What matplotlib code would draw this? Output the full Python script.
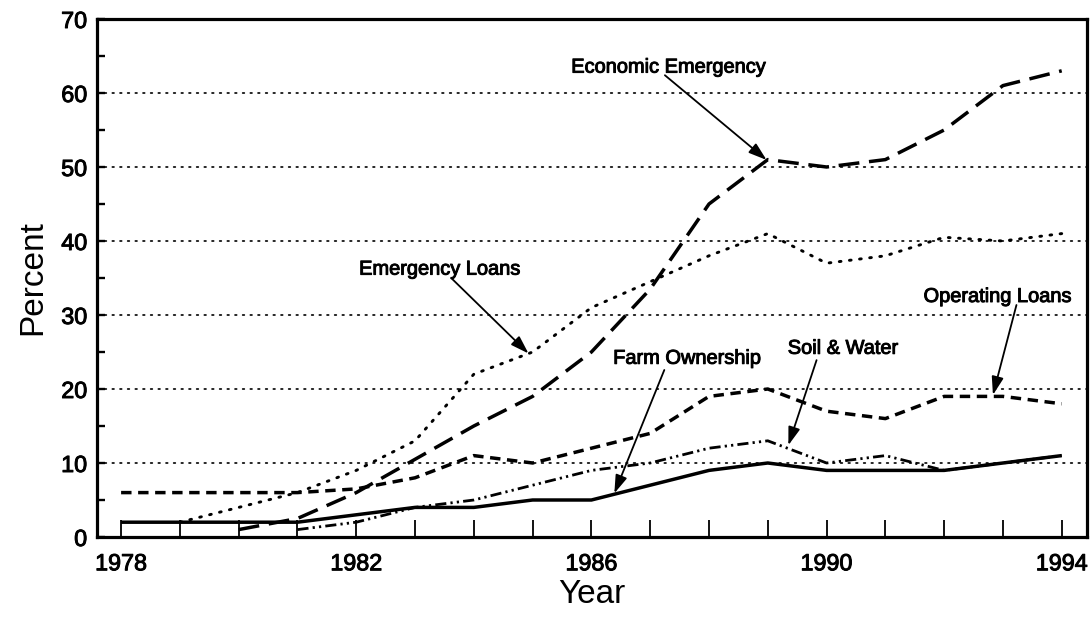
import matplotlib
matplotlib.use("Agg")
import matplotlib.pyplot as plt
import matplotlib.patheffects as pe

plt.rcParams['font.family'] = ['Liberation Sans', 'DejaVu Sans']

# ---- data (percent) ----
years_all = list(range(1978, 1995))

farm_years = list(range(1978, 1995))
farm_ownership = [2, 2, 2, 2, 3, 4, 4, 5, 5, 7, 9, 10, 9, 9, 9, 10, 11]

emerg_years = list(range(1979, 1995))
emergency_loans = [2, 4, 6, 9, 13, 22, 25, 31, 34.5, 38, 41, 37, 38, 40.5, 40, 41]

econ_years = list(range(1980, 1995))
economic_emergency = [1, 2.5, 6, 10.5, 15, 19, 25, 33.5, 45, 51, 50, 51, 55, 61, 63]

oper_years = list(range(1978, 1995))
operating_loans = [6, 6, 6, 6, 6.5, 8, 11, 10, 12, 14, 19, 20, 17, 16, 19, 19, 18]

soil_years = list(range(1981, 1995))
soil_water = [1, 2, 4, 5, 7, 9, 10, 12, 13, 10, 11, 9, 10, 11]

xtick_labels = {1978: "1978", 1982: "1982", 1986: "1986", 1990: "1990", 1994: "1994"}
ytick_values = [0, 10, 20, 30, 40, 50, 60, 70]

# ---- figure ----
W, H = 1092, 618
fig = plt.figure(figsize=(W / 100, H / 100), dpi=100)
L, R, T, B = 97, 1087, 19, 537
ax = fig.add_axes([L / W, (H - B) / H, (R - L) / W, (B - T) / H])

ax.set_xlim(1977.59, 1994.43)
ax.set_ylim(0, 70)

# grid lines (dotted)
for v in [10, 20, 30, 40, 50, 60]:
    ax.axhline(v, color='black', lw=1.2, linestyle=(0, (1, 3.6)),
               dash_capstyle='round', zorder=1)

ax.plot(soil_years, soil_water, color='black', lw=2.0,
        linestyle=(0, (4, 1.5, 0.8, 1.5, 0.8, 1.5)), zorder=3)
ax.plot(oper_years, operating_loans, color='black', lw=2.5,
        linestyle=(0, (3.0, 1.9)), zorder=3)
ax.plot(econ_years, economic_emergency, color='black', lw=2.5,
        linestyle=(0, (6.0, 2.8)), zorder=3)
ax.plot(emerg_years, emergency_loans, color='black', lw=2.1,
        linestyle=(0, (0.6, 2.9)), dash_capstyle='round', zorder=3)
ax.plot(farm_years, farm_ownership, color='black', lw=2.5,
        solid_capstyle='butt', zorder=4)

# spines
for s in ax.spines.values():
    s.set_linewidth(2.3)

thick = [pe.withStroke(linewidth=0.7, foreground='black')]

# ticks
ax.set_xticks(years_all)
ax.set_xticklabels([xtick_labels.get(y, "") for y in years_all])
ax.tick_params(axis='x', direction='in', length=12.2, width=1.3,
               labelsize=16.8, pad=11, top=False)
ax.set_yticks(ytick_values)
ax.set_yticks([5, 15, 25, 35, 45, 55, 65], minor=True)
ax.tick_params(axis='y', which='both', direction='in', length=6, width=1.7,
               labelsize=16.8, pad=7, right=False)
for t in ax.get_xticklabels() + ax.get_yticklabels():
    t.set_path_effects(thick)

ax.set_xlabel("Year", fontsize=24, labelpad=3)
ax.set_ylabel("Percent", fontsize=24, labelpad=9)

# annotations
arrow_kw = dict(arrowstyle='-|>,head_length=0.55,head_width=0.18', lw=1.3,
                color='black', mutation_scale=20, shrinkA=0, shrinkB=0)

def label(text, tx, ty, sx, sy, ex, ey):
    ax.text(tx, ty, text, fontsize=14.4, ha='center', va='center', zorder=6,
            path_effects=thick)
    ax.annotate('', xy=(ex, ey), xytext=(sx, sy), arrowprops=arrow_kw, zorder=6)

label("Economic Emergency", 1987.31, 63.5, 1987.25, 62.4, 1988.98, 50.95)
label("Emergency Loans", 1983.42, 36.2, 1983.62, 34.96, 1984.93, 24.8)
label("Farm Ownership", 1987.63, 24.15, 1987.24, 22.57, 1986.39, 5.9)
label("Soil & Water", 1990.28, 25.5, 1989.83, 23.9, 1989.35, 12.4)
label("Operating Loans", 1992.91, 32.5, 1993.23, 31.35, 1992.83, 19.2)

fig.savefig("out.png", dpi=100)
